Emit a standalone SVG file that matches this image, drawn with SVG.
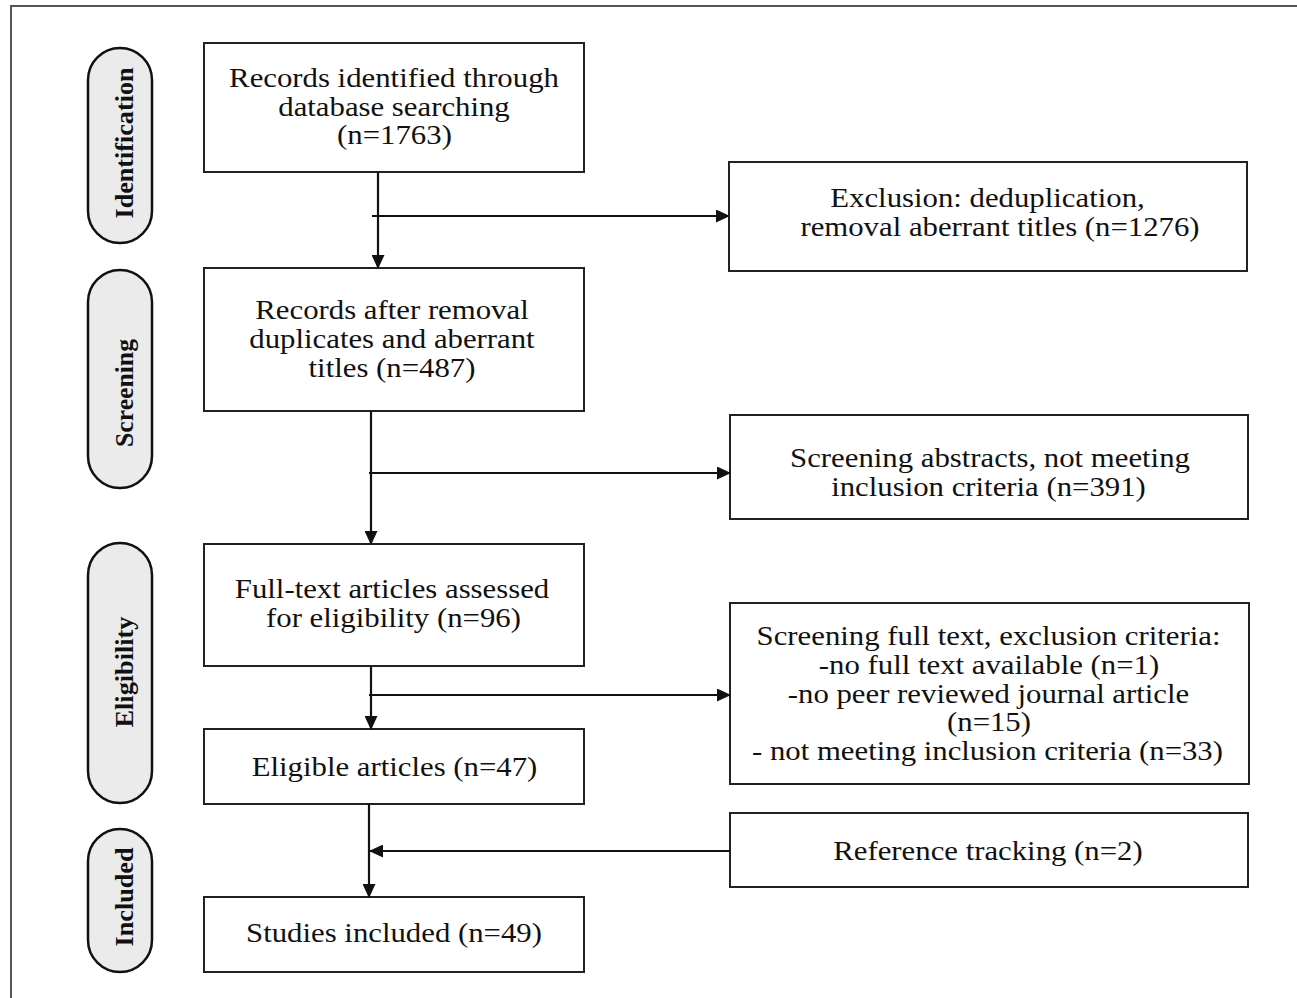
<svg xmlns="http://www.w3.org/2000/svg" width="1297" height="998" viewBox="0 0 1297 998">
<style>
.box{fill:#fff;stroke:#222;stroke-width:2}
.pill{fill:#ebebeb;stroke:#111;stroke-width:2.5}
.t{font-family:"Liberation Serif","Times New Roman",serif;font-size:27px;fill:#111;text-anchor:middle}
.lab{font-family:"Liberation Serif","Times New Roman",serif;font-size:26px;font-weight:bold;fill:#111;text-anchor:middle}
.c{stroke:#111;stroke-width:2.2;fill:none}
</style>
<defs>
<marker id="ah" markerWidth="14" markerHeight="13" refX="13" refY="6.5" orient="auto" markerUnits="userSpaceOnUse">
<path d="M0,0 L14,6.5 L0,13 z" fill="#111"/>
</marker>
</defs>
<rect width="1297" height="998" fill="#fff"/>
<path d="M11,998 V6 H1297" fill="none" stroke="#555" stroke-width="2"/>

<g id="stage-identification">
<rect class="pill" x="88" y="48" width="64" height="195" rx="32"/>
<text class="lab" transform="translate(133,143) rotate(-90)" textLength="151" lengthAdjust="spacingAndGlyphs">Identification</text>
</g>
<g id="stage-screening">
<rect class="pill" x="88" y="270" width="64" height="218" rx="32"/>
<text class="lab" transform="translate(133,393) rotate(-90)" textLength="108" lengthAdjust="spacingAndGlyphs">Screening</text>
</g>
<g id="stage-eligibility">
<rect class="pill" x="88" y="543" width="64" height="260" rx="32"/>
<text class="lab" transform="translate(133,672) rotate(-90)" textLength="111" lengthAdjust="spacingAndGlyphs">Eligibility</text>
</g>
<g id="stage-included">
<rect class="pill" x="88" y="829" width="64" height="143" rx="32"/>
<text class="lab" transform="translate(133,897) rotate(-90)" textLength="99" lengthAdjust="spacingAndGlyphs">Included</text>
</g>

<g id="records-identified">
<rect class="box" x="204" y="43" width="380" height="129"/>
<text class="t" transform="matrix(1.14,0,0,1,394,87)">Records identified through</text>
<text class="t" transform="matrix(1.14,0,0,1,394,116)">database searching</text>
<text class="t" transform="matrix(1.14,0,0,1,394.5,144)">(n=1763)</text>
</g>
<g id="exclusion-dedup">
<rect class="box" x="729" y="162" width="518" height="109"/>
<text class="t" transform="matrix(1.14,0,0,1,987.5,207)">Exclusion: deduplication,</text>
<text class="t" transform="matrix(1.14,0,0,1,1000,236)">removal aberrant titles (n=1276)</text>
</g>
<g id="records-after-removal">
<rect class="box" x="204" y="268" width="380" height="143"/>
<text class="t" transform="matrix(1.14,0,0,1,392,319)">Records after removal</text>
<text class="t" transform="matrix(1.14,0,0,1,392,348)">duplicates and aberrant</text>
<text class="t" transform="matrix(1.14,0,0,1,392,377)">titles (n=487)</text>
</g>
<g id="screening-abstracts">
<rect class="box" x="730" y="415" width="518" height="104"/>
<text class="t" transform="matrix(1.14,0,0,1,990,467)">Screening abstracts, not meeting</text>
<text class="t" transform="matrix(1.14,0,0,1,988.5,496)">inclusion criteria (n=391)</text>
</g>
<g id="full-text-assessed">
<rect class="box" x="204" y="544" width="380" height="122"/>
<text class="t" transform="matrix(1.14,0,0,1,392,598)">Full-text articles assessed</text>
<text class="t" transform="matrix(1.14,0,0,1,393.5,627)">for eligibility (n=96)</text>
</g>
<g id="full-text-exclusion">
<rect class="box" x="730" y="603" width="519" height="181"/>
<text class="t" transform="matrix(1.14,0,0,1,988.5,645)">Screening full text, exclusion criteria:</text>
<text class="t" transform="matrix(1.14,0,0,1,989,674)">-no full text available (n=1)</text>
<text class="t" transform="matrix(1.14,0,0,1,988.5,703)">-no peer reviewed journal article</text>
<text class="t" transform="matrix(1.14,0,0,1,989,731)">(n=15)</text>
<text class="t" transform="matrix(1.14,0,0,1,987.5,760)">- not meeting inclusion criteria (n=33)</text>
</g>
<g id="eligible-articles">
<rect class="box" x="204" y="729" width="380" height="75"/>
<text class="t" transform="matrix(1.14,0,0,1,394.5,776)">Eligible articles (n=47)</text>
</g>
<g id="reference-tracking">
<rect class="box" x="730" y="813" width="518" height="74"/>
<text class="t" transform="matrix(1.14,0,0,1,988,860)">Reference tracking (n=2)</text>
</g>
<g id="studies-included">
<rect class="box" x="204" y="897" width="380" height="75"/>
<text class="t" transform="matrix(1.14,0,0,1,394,942)">Studies included (n=49)</text>
</g>

<g id="connectors">
<line class="c" x1="378" y1="172" x2="378" y2="268" marker-end="url(#ah)"/>
<line class="c" x1="372" y1="216" x2="729" y2="216" marker-end="url(#ah)"/>
<line class="c" x1="371" y1="411" x2="371" y2="544" marker-end="url(#ah)"/>
<line class="c" x1="369" y1="473" x2="730" y2="473" marker-end="url(#ah)"/>
<line class="c" x1="371" y1="666" x2="371" y2="729" marker-end="url(#ah)"/>
<line class="c" x1="369" y1="695" x2="730" y2="695" marker-end="url(#ah)"/>
<line class="c" x1="369" y1="804" x2="369" y2="897" marker-end="url(#ah)"/>
<line class="c" x1="730" y1="851" x2="370" y2="851" marker-end="url(#ah)"/>
</g>
</svg>
